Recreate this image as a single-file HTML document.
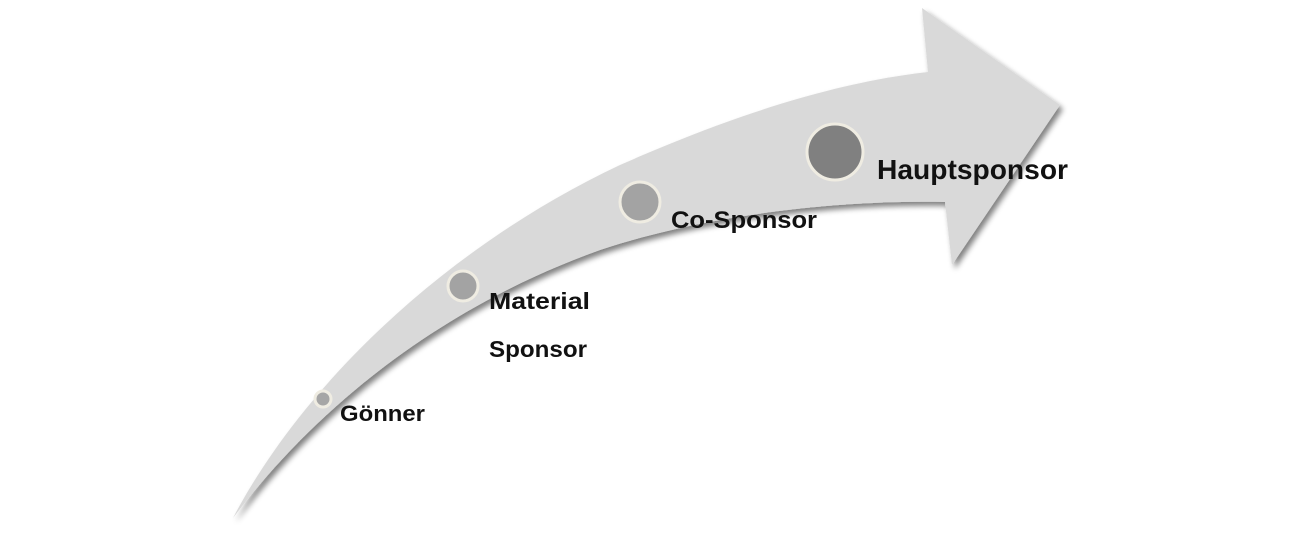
<!DOCTYPE html>
<html><head><meta charset="utf-8"><style>
html,body{margin:0;padding:0;background:#fff;width:1291px;height:536px;overflow:hidden}
svg{display:block}
text{font-family:"Liberation Sans",sans-serif;font-weight:bold;fill:#111}
</style></head><body>
<svg width="1291" height="536" viewBox="0 0 1291 536">
<defs>
<filter id="sh" x="-10%" y="-10%" width="130%" height="130%">
<feGaussianBlur in="SourceAlpha" stdDeviation="3"/>
<feOffset dx="3" dy="4" result="b"/>
<feComponentTransfer><feFuncA type="linear" slope="0.5"/></feComponentTransfer>
<feMerge><feMergeNode/><feMergeNode in="SourceGraphic"/></feMerge>
</filter>
</defs>
<path filter="url(#sh)" fill="#d9d9d9" d="M233,518 C300,390 440,250 620,165 C740,112 840,82 928,72 L922,8 L1060,105 L952,265 L945,202 C860,200 720,210 600,250 C460,300 330,390 233,518 Z"/>
<circle cx="323" cy="399" r="8" fill="#a6a6a6" stroke="#efece2" stroke-width="3"/>
<circle cx="463" cy="286" r="15" fill="#a3a3a3" stroke="#efece2" stroke-width="3"/>
<circle cx="640" cy="202" r="20" fill="#a3a3a3" stroke="#efece2" stroke-width="3"/>
<circle cx="835" cy="152" r="28" fill="#808080" stroke="#efece2" stroke-width="3"/>
<text x="340" y="421" font-size="22" textLength="85" lengthAdjust="spacingAndGlyphs">Gönner</text>
<text x="489" y="309" font-size="23" textLength="101" lengthAdjust="spacingAndGlyphs">Material</text>
<text x="489" y="357" font-size="23" textLength="98" lengthAdjust="spacingAndGlyphs">Sponsor</text>
<text x="671" y="228" font-size="24" textLength="146" lengthAdjust="spacingAndGlyphs">Co-Sponsor</text>
<text x="877" y="179" font-size="28" textLength="191" lengthAdjust="spacingAndGlyphs">Hauptsponsor</text>
</svg>
</body></html>
